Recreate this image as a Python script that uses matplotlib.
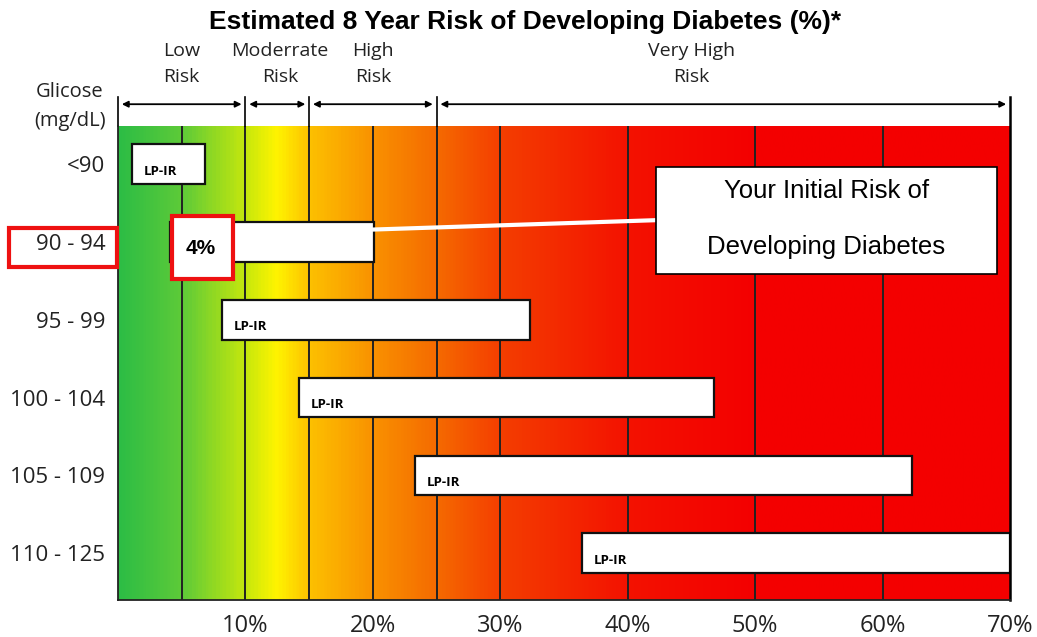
import numpy as np
import matplotlib.pyplot as plt
from matplotlib.colors import LinearSegmentedColormap
from matplotlib.patches import Rectangle

# glucose groups and their 8-year risk range (%)
groups = ['<90', '90 - 94', '95 - 99', '100 - 104', '105 - 109', '110 - 125']
risk_lo = [1.1, 4.1, 8.2, 14.2, 23.3, 36.4]
risk_hi = [6.8, 20.1, 32.3, 46.8, 62.3, 70.0]
bar_labels = ['LP-IR', '', 'LP-IR', 'LP-IR', 'LP-IR', 'LP-IR']

xticks = [10, 20, 30, 40, 50, 60, 70]
gridlines = [5, 10, 15, 20, 25, 30, 40, 50, 60]

# risk bands along the top
band_edges = [0, 10, 15, 25, 70]
band_names = ['Low\nRisk', 'Moderrate\nRisk', 'High\nRisk', 'Very High\nRisk']
band_label_x = [5, 12.7, 20, 45]

patient_row = 1
initial_risk = 4

W, H = 1037, 637
fig = plt.figure(figsize=(W / 100, H / 100), dpi=100)
ax = fig.add_axes([118 / W, (H - 600) / H, (1010 - 118) / W, (600 - 126) / H])

ytop, ybot = -0.49, 5.6
ax.set_xlim(0, 70)
ax.set_ylim(ybot, ytop)

# background gradient green -> yellow -> red
stops = [(0.0, '#2dbd45'), (5 / 70, '#5fcb38'), (10 / 70, '#c8e80c'),
         (12.3 / 70, '#fff400'), (15 / 70, '#fdc000'), (20 / 70, '#f99100'),
         (25 / 70, '#f56a00'), (30 / 70, '#f43e00'), (40 / 70, '#f31200'),
         (50 / 70, '#f40000'), (1.0, '#f40000')]
cmap = LinearSegmentedColormap.from_list('risk', stops)
grad = np.linspace(0, 1, 700).reshape(1, -1)
ax.imshow(grad, cmap=cmap, aspect='auto', extent=[0, 70, ybot, ytop], zorder=0)

for g in gridlines:
    ax.axvline(g, color='#222222', lw=1.4, zorder=1)

sans = ['Open Sans', 'DejaVu Sans']
arial = ['Liberation Sans', 'DejaVu Sans']

for i, (lo, hi) in enumerate(zip(risk_lo, risk_hi)):
    ax.barh(i, hi - lo, left=lo, height=0.51, color='white', edgecolor='#111111',
            lw=1.6, zorder=3)
    if bar_labels[i]:
        ax.text(lo + 0.9, i + 0.09, bar_labels[i], fontsize=9.5, fontweight='bold',
                family=sans, va='center', ha='left', zorder=4)

ax.set_yticks(range(len(groups)))
ax.set_yticklabels(groups, fontfamily=sans, fontsize=16, color='#222222')
ax.set_xticks(xticks)
ax.set_xticklabels([f'{t}%' for t in xticks], fontfamily=sans, fontsize=17,
                   color='#222222')
ax.tick_params(axis='x', length=0, pad=10)
ax.tick_params(axis='y', length=0, pad=9)
for s in ['top', 'right']:
    ax.spines[s].set_visible(False)
for s in ['left', 'bottom']:
    ax.spines[s].set_color('#222222')
    ax.spines[s].set_linewidth(1.3)
    ax.spines[s].set_zorder(5)

# right border extends up to the band arrows
ax.plot([70, 70], [ybot, -0.86], color='black', lw=1.8, clip_on=False, zorder=5)

# band arrows and labels
for k in range(len(band_names)):
    a, b = band_edges[k], band_edges[k + 1]
    ax.annotate('', xy=(b - 0.3, -0.77), xytext=(a + 0.3, -0.77),
                arrowprops=dict(arrowstyle='<|-|>', color='black', lw=1.3,
                                mutation_scale=9, shrinkA=0, shrinkB=0),
                annotation_clip=False)
    ax.text(band_label_x[k], -1.29, band_names[k], ha='center', va='center',
            fontsize=14, family=sans, color='#222222', linespacing=1.6)
for e in band_edges[:-1]:
    ax.plot([e, e], [ytop, -0.86], color='black', lw=1.2, clip_on=False)

ax.text(-3.8, -0.745, 'Glicose\n(mg/dL)', ha='center', va='center', fontsize=14.5,
        family=sans, color='#222222', linespacing=1.6)

fig.text(525 / W, 1 - 22 / H, 'Estimated 8 Year Risk of Developing Diabetes (%)*',
         ha='center', va='center', fontsize=19, fontweight='bold', family=arial)

# highlight of patient row
ax.add_patch(Rectangle((-8.55, 0.82), 8.45, 0.5, fill=False, ec='#ee1111', lw=3,
                       clip_on=False, zorder=6))
ax.add_patch(Rectangle((initial_risk + 0.2, 0.67), 4.8, 0.8, fc='white',
                       ec='#ee1111', lw=3, zorder=6))
ax.text(initial_risk + 2.5, 1.08, f'{initial_risk}%', ha='center', va='center',
        fontsize=15, fontweight='bold', family=arial, zorder=7)

# callout
ax.plot([risk_hi[patient_row], 42.2], [0.84, 0.72], color='white', lw=3, zorder=4)
ax.add_patch(Rectangle((42.2, 0.04), 26.8, 1.37, fc='white', ec='black', lw=1.2,
                       zorder=6))
ax.text(55.6, 0.35, 'Your Initial Risk of', ha='center', va='center', fontsize=18.5,
        family=arial, zorder=7)
ax.text(55.6, 1.06, 'Developing Diabetes', ha='center', va='center', fontsize=18.5,
        family=arial, zorder=7)

fig.savefig('out.png', dpi=100)
